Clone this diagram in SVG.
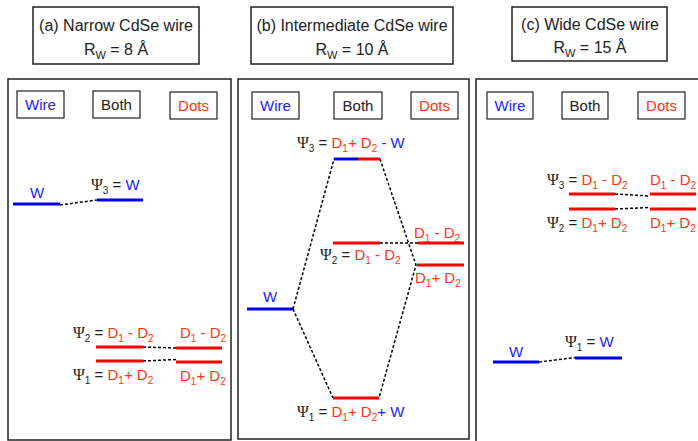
<svg xmlns="http://www.w3.org/2000/svg" width="698" height="441" viewBox="0 0 698 441">
<style>
.box{fill:#fff;stroke:#222;stroke-width:1.5}
.sbox{fill:#fff;stroke:#222;stroke-width:1.2}
text{font-family:"Liberation Sans",Arial,sans-serif;font-size:15px;fill:#222}
.t{font-size:16px}
.b{fill:#2222ff}
.r{fill:#ff3311}
.psi{font-family:"Liberation Serif","DejaVu Serif",serif;font-size:16px}
.lb{stroke:#0000ee;stroke-width:3}
.lr{stroke:#ff0000;stroke-width:3}
.d{stroke:#000;stroke-width:1.5;stroke-dasharray:3 2;fill:none}
</style>
<rect width="698" height="441" fill="#fff"/>

<g id="title-a"><rect class="box" x="33" y="7" width="166" height="57"/>
<text class="t" x="116" y="31" text-anchor="middle">(a) Narrow CdSe wire</text>
<text class="t" x="116" y="55" text-anchor="middle">R<tspan font-size="11" dy="4">W</tspan><tspan dy="-4"> = 8 Å</tspan></text></g>
<g id="title-b"><rect class="box" x="251" y="7" width="202" height="57"/>
<text class="t" x="352" y="31" text-anchor="middle">(b) Intermediate CdSe wire</text>
<text class="t" x="352" y="55" text-anchor="middle">R<tspan font-size="11" dy="4">W</tspan><tspan dy="-4"> = 10 Å</tspan></text></g>
<g id="title-c"><rect class="box" x="512" y="7" width="155" height="54"/>
<text class="t" x="590" y="30" text-anchor="middle">(c) Wide CdSe wire</text>
<text class="t" x="590" y="53" text-anchor="middle">R<tspan font-size="11" dy="4">W</tspan><tspan dy="-4"> = 15 Å</tspan></text></g>

<g id="panel-a"><rect class="box" x="8" y="79" width="223" height="361"/>
<rect class="sbox" x="17" y="91" width="47" height="27"/><text class="b" x="40.5" y="110" text-anchor="middle">Wire</text>
<rect class="sbox" x="93" y="91" width="47" height="27"/><text x="116.5" y="110" text-anchor="middle">Both</text>
<rect class="sbox" x="170" y="92" width="47" height="27"/><text class="r" x="193.5" y="111" text-anchor="middle">Dots</text></g>
<g id="panel-b"><rect class="box" x="238" y="79" width="231" height="360"/>
<rect class="sbox" x="252" y="92" width="47" height="27"/><text class="b" x="275.5" y="111" text-anchor="middle">Wire</text>
<rect class="sbox" x="334" y="92" width="48" height="27"/><text x="358" y="111" text-anchor="middle">Both</text>
<rect class="sbox" x="411" y="92" width="47" height="27"/><text class="r" x="434.5" y="111" text-anchor="middle">Dots</text></g>
<g id="panel-c"><rect class="box" x="476" y="79" width="226" height="366"/>
<rect class="sbox" x="487" y="92" width="46" height="27"/><text class="b" x="510" y="111" text-anchor="middle">Wire</text>
<rect class="sbox" x="562" y="92" width="46" height="27"/><text x="585" y="111" text-anchor="middle">Both</text>
<rect class="sbox" x="638" y="92" width="47" height="27"/><text class="r" x="661.5" y="111" text-anchor="middle">Dots</text></g>

<g id="connectors">
<path class="d" d="M60 205 L97 200"/>
<path class="d" d="M143 347 L176 348"/>
<path class="d" d="M143 361 L176 359.5"/>
<path class="d" d="M293 309 L334 159"/>
<path class="d" d="M293 309 L333 398"/>
<path class="d" d="M380 159 L416 265 L379 398"/>
<path class="d" d="M380 243 L418 243"/>
<path class="d" d="M615 194 L650 196"/>
<path class="d" d="M615 209 L650 207.5"/>
<path class="d" d="M539 362 L575 357.5"/>
</g>

<g id="levels-a">
<line class="lb" x1="13" y1="204" x2="60" y2="204"/>
<text class="b" x="37" y="198" text-anchor="middle">W</text>
<line class="lb" x1="97" y1="200" x2="143" y2="200"/>
<text x="91" y="190"><tspan class="psi">Ψ</tspan><tspan font-size="10" dy="4">3</tspan><tspan dy="-4"> = </tspan><tspan class="b">W</tspan></text>
<line class="lr" x1="96" y1="347" x2="143" y2="347"/>
<line class="lr" x1="176" y1="348" x2="222" y2="348"/>
<line class="lr" x1="96" y1="361" x2="143" y2="361"/>
<line class="lr" x1="176" y1="362" x2="222" y2="362"/>
<text x="73" y="338"><tspan class="psi">Ψ</tspan><tspan font-size="10" dy="4">2</tspan><tspan dy="-4"> = </tspan><tspan class="r">D<tspan font-size="10" dy="4">1</tspan><tspan dy="-4"> - D</tspan><tspan font-size="10" dy="4">2</tspan></tspan></text>
<text class="r" x="180" y="338">D<tspan font-size="10" dy="4">1</tspan><tspan dy="-4"> - D</tspan><tspan font-size="10" dy="4">2</tspan></text>
<text x="73" y="380"><tspan class="psi">Ψ</tspan><tspan font-size="10" dy="4">1</tspan><tspan dy="-4"> = </tspan><tspan class="r">D<tspan font-size="10" dy="4">1</tspan><tspan dy="-4">+ D</tspan><tspan font-size="10" dy="4">2</tspan></tspan></text>
<text class="r" x="180" y="381">D<tspan font-size="10" dy="4">1</tspan><tspan dy="-4">+ D</tspan><tspan font-size="10" dy="4">2</tspan></text>
</g>

<g id="levels-b">
<line class="lb" x1="334" y1="159" x2="358" y2="159"/>
<line class="lr" x1="358" y1="159" x2="380" y2="159"/>
<text x="297" y="148"><tspan class="psi">Ψ</tspan><tspan font-size="10" dy="4">3</tspan><tspan dy="-4"> = </tspan><tspan class="r">D<tspan font-size="10" dy="4">1</tspan><tspan dy="-4">+ D</tspan><tspan font-size="10" dy="4">2</tspan></tspan><tspan class="b" dy="-4"> - W</tspan></text>
<line class="lr" x1="333" y1="243" x2="380" y2="243"/>
<line class="lr" x1="418" y1="243" x2="464" y2="243"/>
<text class="r" x="414" y="238">D<tspan font-size="10" dy="4">1</tspan><tspan dy="-4"> - D</tspan><tspan font-size="10" dy="4">2</tspan></text>
<text x="320" y="260"><tspan class="psi">Ψ</tspan><tspan font-size="10" dy="4">2</tspan><tspan dy="-4"> = </tspan><tspan class="r">D<tspan font-size="10" dy="4">1</tspan><tspan dy="-4"> - D</tspan><tspan font-size="10" dy="4">2</tspan></tspan></text>
<line class="lr" x1="417" y1="265" x2="464" y2="265"/>
<text class="r" x="415" y="283">D<tspan font-size="10" dy="4">1</tspan><tspan dy="-4">+ D</tspan><tspan font-size="10" dy="4">2</tspan></text>
<line class="lb" x1="247" y1="309" x2="293" y2="309"/>
<text class="b" x="270" y="302" text-anchor="middle">W</text>
<line class="lr" x1="333" y1="398" x2="379" y2="398"/>
<text x="297" y="417"><tspan class="psi">Ψ</tspan><tspan font-size="10" dy="4">1</tspan><tspan dy="-4"> = </tspan><tspan class="r">D<tspan font-size="10" dy="4">1</tspan><tspan dy="-4">+ D</tspan><tspan font-size="10" dy="4">2</tspan></tspan><tspan class="b" dy="-4">+ W</tspan></text>
</g>

<g id="levels-c">
<line class="lr" x1="569" y1="194" x2="615" y2="194"/>
<line class="lr" x1="650" y1="194" x2="696" y2="194"/>
<text x="547" y="185"><tspan class="psi">Ψ</tspan><tspan font-size="10" dy="4">3</tspan><tspan dy="-4"> = </tspan><tspan class="r">D<tspan font-size="10" dy="4">1</tspan><tspan dy="-4"> - D</tspan><tspan font-size="10" dy="4">2</tspan></tspan></text>
<text class="r" x="650" y="185">D<tspan font-size="10" dy="4">1</tspan><tspan dy="-4"> - D</tspan><tspan font-size="10" dy="4">2</tspan></text>
<line class="lr" x1="569" y1="209" x2="615" y2="209"/>
<line class="lr" x1="650" y1="209" x2="696" y2="209"/>
<text x="547" y="228"><tspan class="psi">Ψ</tspan><tspan font-size="10" dy="4">2</tspan><tspan dy="-4"> = </tspan><tspan class="r">D<tspan font-size="10" dy="4">1</tspan><tspan dy="-4">+ D</tspan><tspan font-size="10" dy="4">2</tspan></tspan></text>
<text class="r" x="650" y="228">D<tspan font-size="10" dy="4">1</tspan><tspan dy="-4">+ D</tspan><tspan font-size="10" dy="4">2</tspan></text>
<line class="lb" x1="493" y1="362" x2="539" y2="362"/>
<text class="b" x="516" y="357" text-anchor="middle">W</text>
<line class="lb" x1="575" y1="358" x2="622" y2="358"/>
<text x="565" y="347"><tspan class="psi">Ψ</tspan><tspan font-size="10" dy="4">1</tspan><tspan dy="-4"> = </tspan><tspan class="b">W</tspan></text>
</g>
</svg>
